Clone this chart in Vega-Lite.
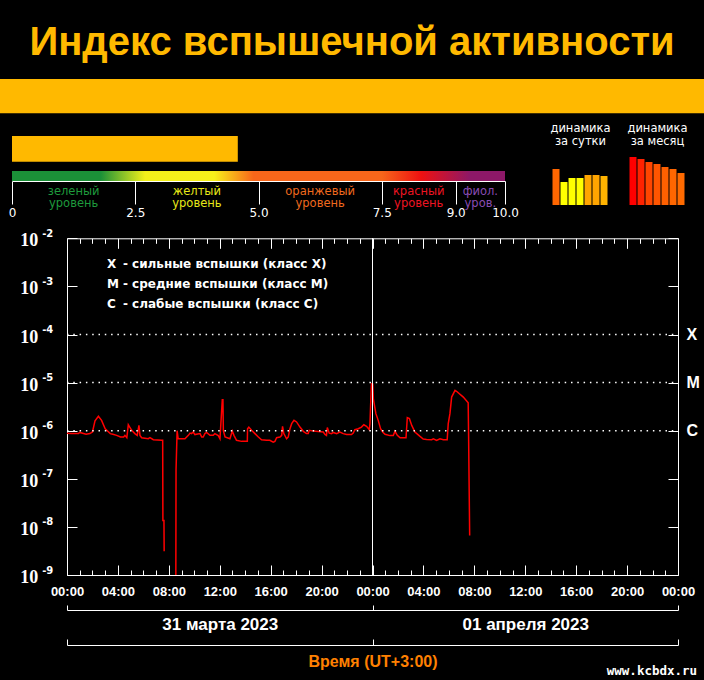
{
  "$schema": "https://vega.github.io/schema/vega-lite/v6.json",
  "width": 704,
  "height": 680,
  "autosize": {"type": "none"},
  "padding": 0,
  "background": "#000000",
  "config": {"view": {"stroke": null}, "axis": {"grid": false}},
  "title": {"text": "Индекс вспышечной активности", "anchor": "middle", "frame": "group", "orient": "top", "baseline": "alphabetic", "offset": -95, "color": "#FFB900", "font": "Liberation Sans Narrow, Arial Narrow, Liberation Sans, sans-serif", "fontWeight": "bold", "fontSize": 40},
  "datasets": {
    "flux": [
      {"t":"2023-03-31T00:00:00Z","v":8.9e-7,"s":1},{"t":"2023-03-31T00:21:00Z","v":8.7e-7,"s":1},{"t":"2023-03-31T00:54:00Z","v":8.7e-7,"s":1},{"t":"2023-03-31T01:00:00Z","v":9.2e-7,"s":1},{"t":"2023-03-31T01:30:00Z","v":8.4e-7,"s":1},{"t":"2023-03-31T01:48:00Z","v":8.7e-7,"s":1},{"t":"2023-03-31T02:00:00Z","v":9.4e-7,"s":1},{"t":"2023-03-31T02:12:00Z","v":1.6e-6,"s":1},{"t":"2023-03-31T02:28:00Z","v":2.0e-6,"s":1},{"t":"2023-03-31T02:43:00Z","v":1.64e-6,"s":1},{"t":"2023-03-31T03:00:00Z","v":1.1e-6,"s":1},{"t":"2023-03-31T03:24:00Z","v":8.7e-7,"s":1},{"t":"2023-03-31T03:36:00Z","v":8.4e-7,"s":1},{"t":"2023-03-31T03:54:00Z","v":8.0e-7,"s":1},{"t":"2023-03-31T04:12:00Z","v":7.4e-7,"s":1},{"t":"2023-03-31T04:27:00Z","v":7.4e-7,"s":1},{"t":"2023-03-31T04:33:00Z","v":8.0e-7,"s":1},{"t":"2023-03-31T04:42:00Z","v":7.15e-7,"s":1},{"t":"2023-03-31T04:49:00Z","v":1.33e-6,"s":1},{"t":"2023-03-31T05:05:00Z","v":1.02e-6,"s":1},{"t":"2023-03-31T05:20:00Z","v":8.7e-7,"s":1},{"t":"2023-03-31T05:31:00Z","v":8.0e-7,"s":1},{"t":"2023-03-31T05:39:00Z","v":1.29e-6,"s":1},{"t":"2023-03-31T05:44:00Z","v":8.0e-7,"s":1},{"t":"2023-03-31T05:52:00Z","v":7.15e-7,"s":1},{"t":"2023-03-31T06:23:00Z","v":6.8e-7,"s":1},{"t":"2023-03-31T06:31:00Z","v":7.15e-7,"s":1},{"t":"2023-03-31T06:47:00Z","v":6.5e-7,"s":1},{"t":"2023-03-31T07:26:00Z","v":6.3e-7,"s":1},{"t":"2023-03-31T07:31:00Z","v":6.3e-7,"s":1},{"t":"2023-03-31T07:32:00Z","v":1.36e-8,"s":1},{"t":"2023-03-31T07:37:00Z","v":1.36e-8,"s":1},{"t":"2023-03-31T07:38:00Z","v":3.1e-9,"s":1},
      {"t":"2023-03-31T08:33:00Z","v":1e-9,"s":2},{"t":"2023-03-31T08:34:00Z","v":1.54e-7,"s":2},{"t":"2023-03-31T08:39:00Z","v":1.0e-6,"s":2},{"t":"2023-03-31T08:44:00Z","v":6.8e-7,"s":2},{"t":"2023-03-31T09:16:00Z","v":6.8e-7,"s":2},{"t":"2023-03-31T09:24:00Z","v":7.4e-7,"s":2},{"t":"2023-03-31T09:32:00Z","v":8.0e-7,"s":2},{"t":"2023-03-31T09:40:00Z","v":8.9e-7,"s":2},{"t":"2023-03-31T09:47:00Z","v":8.7e-7,"s":2},{"t":"2023-03-31T09:55:00Z","v":9.4e-7,"s":2},{"t":"2023-03-31T10:03:00Z","v":8.3e-7,"s":2},{"t":"2023-03-31T10:27:00Z","v":8.7e-7,"s":2},{"t":"2023-03-31T10:35:00Z","v":7.4e-7,"s":2},{"t":"2023-03-31T10:42:00Z","v":7.4e-7,"s":2},{"t":"2023-03-31T10:50:00Z","v":8.7e-7,"s":2},{"t":"2023-03-31T10:58:00Z","v":9.2e-7,"s":2},{"t":"2023-03-31T11:14:00Z","v":8.0e-7,"s":2},{"t":"2023-03-31T11:29:00Z","v":8.0e-7,"s":2},{"t":"2023-03-31T11:37:00Z","v":8.7e-7,"s":2},{"t":"2023-03-31T11:53:00Z","v":7.9e-7,"s":2},{"t":"2023-03-31T12:01:00Z","v":6.8e-7,"s":2},{"t":"2023-03-31T12:09:00Z","v":2.65e-6,"s":2},{"t":"2023-03-31T12:12:00Z","v":4.4e-6,"s":2},{"t":"2023-03-31T12:15:00Z","v":4.4e-6,"s":2},{"t":"2023-03-31T12:17:00Z","v":1.0e-6,"s":2},{"t":"2023-03-31T12:25:00Z","v":7.4e-7,"s":2},{"t":"2023-03-31T12:48:00Z","v":6.8e-7,"s":2},{"t":"2023-03-31T12:59:00Z","v":9.8e-7,"s":2},{"t":"2023-03-31T13:07:00Z","v":8.0e-7,"s":2},{"t":"2023-03-31T13:19:00Z","v":6.3e-7,"s":2},{"t":"2023-03-31T13:43:00Z","v":6.0e-7,"s":2},{"t":"2023-03-31T14:10:00Z","v":6.0e-7,"s":2},{"t":"2023-03-31T14:11:00Z","v":1.1e-6,"s":2},{"t":"2023-03-31T14:17:00Z","v":1.19e-6,"s":2},{"t":"2023-03-31T14:30:00Z","v":1.02e-6,"s":2},{"t":"2023-03-31T14:46:00Z","v":8.7e-7,"s":2},{"t":"2023-03-31T15:02:00Z","v":7.4e-7,"s":2},{"t":"2023-03-31T15:17:00Z","v":6.5e-7,"s":2},{"t":"2023-03-31T15:41:00Z","v":6.3e-7,"s":2},{"t":"2023-03-31T15:56:00Z","v":6.3e-7,"s":2},{"t":"2023-03-31T16:12:00Z","v":5.8e-7,"s":2},{"t":"2023-03-31T16:20:00Z","v":6.0e-7,"s":2},{"t":"2023-03-31T16:28:00Z","v":7.15e-7,"s":2},{"t":"2023-03-31T16:44:00Z","v":7.4e-7,"s":2},{"t":"2023-03-31T16:52:00Z","v":8.0e-7,"s":2},{"t":"2023-03-31T16:56:00Z","v":1.23e-6,"s":2},{"t":"2023-03-31T17:02:00Z","v":8.7e-7,"s":2},{"t":"2023-03-31T17:15:00Z","v":6.8e-7,"s":2},{"t":"2023-03-31T17:23:00Z","v":7.4e-7,"s":2},{"t":"2023-03-31T17:31:00Z","v":1.1e-6,"s":2},{"t":"2023-03-31T17:39:00Z","v":1.4e-6,"s":2},{"t":"2023-03-31T17:50:00Z","v":1.64e-6,"s":2},{"t":"2023-03-31T18:02:00Z","v":1.52e-6,"s":2},{"t":"2023-03-31T18:18:00Z","v":1.19e-6,"s":2},{"t":"2023-03-31T18:34:00Z","v":9.7e-7,"s":2},{"t":"2023-03-31T18:49:00Z","v":8.7e-7,"s":2},{"t":"2023-03-31T18:57:00Z","v":8.7e-7,"s":2},{"t":"2023-03-31T19:02:00Z","v":1.02e-6,"s":2},{"t":"2023-03-31T19:21:00Z","v":9.8e-7,"s":2},{"t":"2023-03-31T20:08:00Z","v":9.4e-7,"s":2},{"t":"2023-03-31T20:16:00Z","v":8.4e-7,"s":2},{"t":"2023-03-31T20:23:00Z","v":8.0e-7,"s":2},{"t":"2023-03-31T20:27:00Z","v":1.16e-6,"s":2},{"t":"2023-03-31T20:36:00Z","v":8.9e-7,"s":2},{"t":"2023-03-31T20:47:00Z","v":8.7e-7,"s":2},{"t":"2023-03-31T20:55:00Z","v":9.2e-7,"s":2},{"t":"2023-03-31T21:11:00Z","v":8.7e-7,"s":2},{"t":"2023-03-31T21:26:00Z","v":9.4e-7,"s":2},{"t":"2023-03-31T21:42:00Z","v":8.7e-7,"s":2},{"t":"2023-03-31T21:58:00Z","v":8.3e-7,"s":2},{"t":"2023-03-31T22:21:00Z","v":8.3e-7,"s":2},{"t":"2023-03-31T22:29:00Z","v":8.9e-7,"s":2},{"t":"2023-03-31T22:37:00Z","v":1.05e-6,"s":2},{"t":"2023-03-31T22:53:00Z","v":1.1e-6,"s":2},{"t":"2023-03-31T23:08:00Z","v":1.19e-6,"s":2},{"t":"2023-03-31T23:19:00Z","v":1.33e-6,"s":2},{"t":"2023-03-31T23:32:00Z","v":1.23e-6,"s":2},{"t":"2023-03-31T23:45:00Z","v":1.05e-6,"s":2},{"t":"2023-03-31T23:48:00Z","v":1.4e-6,"s":2},{"t":"2023-03-31T23:52:00Z","v":4.3e-6,"s":2},{"t":"2023-03-31T23:55:00Z","v":9.5e-6,"s":2},{"t":"2023-04-01T00:01:00Z","v":9.3e-6,"s":2},{"t":"2023-04-01T00:04:00Z","v":4.6e-6,"s":2},{"t":"2023-04-01T00:16:00Z","v":2.26e-6,"s":2},{"t":"2023-04-01T00:27:00Z","v":1.64e-6,"s":2},{"t":"2023-04-01T00:38:00Z","v":1.1e-6,"s":2},{"t":"2023-04-01T00:48:00Z","v":9.4e-7,"s":2},{"t":"2023-04-01T00:59:00Z","v":8.4e-7,"s":2},{"t":"2023-04-01T01:22:00Z","v":7.9e-7,"s":2},{"t":"2023-04-01T01:38:00Z","v":7.9e-7,"s":2},{"t":"2023-04-01T01:46:00Z","v":9.7e-7,"s":2},{"t":"2023-04-01T01:57:00Z","v":8.0e-7,"s":2},{"t":"2023-04-01T02:10:00Z","v":7.15e-7,"s":2},{"t":"2023-04-01T02:38:00Z","v":7.15e-7,"s":2},{"t":"2023-04-01T02:44:00Z","v":1.87e-6,"s":2},{"t":"2023-04-01T02:54:00Z","v":1.78e-6,"s":2},{"t":"2023-04-01T03:05:00Z","v":1.29e-6,"s":2},{"t":"2023-04-01T03:20:00Z","v":9.4e-7,"s":2},{"t":"2023-04-01T03:44:00Z","v":7.6e-7,"s":2},{"t":"2023-04-01T03:59:00Z","v":6.7e-7,"s":2},{"t":"2023-04-01T04:15:00Z","v":6.6e-7,"s":2},{"t":"2023-04-01T04:39:00Z","v":6.5e-7,"s":2},{"t":"2023-04-01T04:47:00Z","v":6.8e-7,"s":2},{"t":"2023-04-01T05:02:00Z","v":6.3e-7,"s":2},{"t":"2023-04-01T05:18:00Z","v":6.8e-7,"s":2},{"t":"2023-04-01T05:34:00Z","v":6.5e-7,"s":2},{"t":"2023-04-01T05:52:00Z","v":6.5e-7,"s":2},{"t":"2023-04-01T05:57:00Z","v":1.4e-6,"s":2},{"t":"2023-04-01T06:05:00Z","v":2.26e-6,"s":2},{"t":"2023-04-01T06:13:00Z","v":5.0e-6,"s":2},{"t":"2023-04-01T06:29:00Z","v":6.9e-6,"s":2},{"t":"2023-04-01T06:36:00Z","v":6.6e-6,"s":2},{"t":"2023-04-01T07:08:00Z","v":5.0e-6,"s":2},{"t":"2023-04-01T07:31:00Z","v":3.8e-6,"s":2},{"t":"2023-04-01T07:33:00Z","v":7.6e-7,"s":2},{"t":"2023-04-01T07:38:00Z","v":6.6e-9,"s":2}
    ],
    "classes": [{"cls":"X","v":1e-4},{"cls":"M","v":1e-5},{"cls":"C","v":1e-6}],
    "legendRows": [
      {"cls":"X","desc":"- сильные вспышки (класс X)","t":"2023-03-31T03:08:00Z","v":0.00292},
      {"cls":"M","desc":"- средние вспышки (класс M)","t":"2023-03-31T03:08:00Z","v":0.00112},
      {"cls":"C","desc":"- слабые вспышки (класс C)","t":"2023-03-31T03:08:00Z","v":0.00043}
    ],
    "dayBreak": [{"t":"2023-04-01T00:00:00Z"}],
    "levels": [
      {"level":"green","label":"зеленый\nуровень","mid":1.25},
      {"level":"yellow","label":"желтый\nуровень","mid":3.75},
      {"level":"orange","label":"оранжевый\nуровень","mid":6.25},
      {"level":"red","label":"красный\nуровень","mid":8.25},
      {"level":"violet","label":"фиол.\nуров.","mid":9.5}
    ],
    "daily": [{"d":1,"i":5.69},{"d":2,"i":3.63},{"d":3,"i":4.27},{"d":4,"i":4.27},{"d":5,"i":4.74},{"d":6,"i":4.74},{"d":7,"i":4.58}],
    "monthly": [{"d":1,"i":7.58},{"d":2,"i":7.27},{"d":3,"i":6.79},{"d":4,"i":6.48},{"d":5,"i":6.0},{"d":6,"i":5.69},{"d":7,"i":5.06}]
  },
  "resolve": {
    "scale": {"x": "independent", "y": "independent", "color": "independent", "fill": "independent"},
    "axis": {"x": "independent", "y": "independent"}
  },
  "layer": [
    {
      "data": {"values": [{"band": "status"}]},
      "mark": {"type": "rect", "color": "#FFB900"},
      "encoding": {
        "y": {"datum": 0, "type": "quantitative", "scale": {"domain": [0, 1], "range": [113.3, 79]}, "axis": null},
        "y2": {"datum": 1}
      }
    },
    {
      "data": {"values": [{"name": "index", "value": 4.58}]},
      "mark": {"type": "rect", "color": "#FFB900"},
      "encoding": {
        "x": {"field": "value", "type": "quantitative", "scale": {"domain": [0, 10], "range": [12, 505], "nice": false}, "axis": null},
        "x2": {"datum": 0},
        "y": {"datum": 0, "type": "quantitative", "scale": {"domain": [0, 1], "range": [161.7, 136]}, "axis": null},
        "y2": {"datum": 1}
      }
    },
    {
      "data": {"values": [{"from": 0, "to": 10}]},
      "mark": {"type": "rect", "color": {"gradient": "linear", "x1": 0, "x2": 1, "y1": 0, "y2": 0, "stops": [
        {"offset": 0, "color": "#1b9138"}, {"offset": 0.18, "color": "#1b9138"},
        {"offset": 0.27, "color": "#f3f01a"}, {"offset": 0.41, "color": "#f7f01a"},
        {"offset": 0.49, "color": "#f7661a"}, {"offset": 0.75, "color": "#f7661a"},
        {"offset": 0.83, "color": "#ee1111"}, {"offset": 0.93, "color": "#8d1868"},
        {"offset": 1, "color": "#8d1868"}]}},
      "encoding": {
        "x": {"field": "from", "type": "quantitative", "scale": {"domain": [0, 10], "range": [12, 505], "nice": false},
          "axis": {"orient": "bottom", "offset": -499, "values": [0, 2.5, 5, 7.5, 9, 10], "title": null,
            "domainColor": "#ffffff", "tickColor": "#ffffff", "tickSize": 23,
            "labelExpr": "datum.value == 0 ? '0' : format(datum.value, '.1f')",
            "labelColor": "#ffffff", "labelFont": "DejaVu Sans", "labelFontSize": 12, "labelPadding": 3,
            "labelFlush": false, "labelOverlap": false}},
        "x2": {"field": "to"},
        "y": {"datum": 0, "type": "quantitative", "scale": {"domain": [0, 1], "range": [181, 171]}, "axis": null},
        "y2": {"datum": 1}
      }
    },
    {
      "data": {"name": "levels"},
      "mark": {"type": "text", "font": "DejaVu Sans", "fontSize": 11.5, "lineBreak": "\n", "lineHeight": 12.5, "baseline": "top", "dy": 4.5},
      "encoding": {
        "x": {"field": "mid", "type": "quantitative", "scale": {"domain": [0, 10], "range": [12, 505], "nice": false}, "axis": null},
        "y": {"datum": 0, "type": "quantitative", "scale": {"domain": [0, 1], "range": [181, 171]}, "axis": null},
        "text": {"field": "label"},
        "color": {"field": "level", "type": "nominal", "legend": null,
          "scale": {"domain": ["green", "yellow", "orange", "red", "violet"], "range": ["#1e9a3c", "#e8e818", "#f06a1e", "#ee1422", "#8a4cb4"]}}
      }
    },
    {
      "data": {"name": "daily"},
      "mark": {"type": "bar"},
      "encoding": {
        "x": {"field": "d", "type": "ordinal", "scale": {"type": "band", "range": [552, 608], "paddingInner": 0.125, "paddingOuter": 0.0625},
          "axis": {"orient": "top", "offset": -146, "domain": false, "ticks": false, "labels": false,
            "title": ["динамика", "за сутки"], "titleColor": "#ffffff", "titleFont": "DejaVu Sans", "titleFontSize": 11.5, "titleFontWeight": "normal", "titleLineHeight": 12.5, "titlePadding": 0}},
        "y": {"field": "i", "type": "quantitative", "scale": {"domain": [0, 10], "range": [205, 141.7], "nice": false}, "axis": null},
        "fill": {"field": "i", "type": "quantitative", "legend": null,
          "scale": {"domain": [3.6, 4.3, 4.58, 4.74, 5.06, 5.7, 6.0, 6.5, 6.8, 7.27, 7.58], "range": ["#FFFF00", "#FFFF00", "#FFB300", "#FFA500", "#FF6A00", "#FF6600", "#FF6000", "#FF5500", "#FF4400", "#FF2200", "#FF0000"]}}
      }
    },
    {
      "data": {"name": "monthly"},
      "mark": {"type": "bar"},
      "encoding": {
        "x": {"field": "d", "type": "ordinal", "scale": {"type": "band", "range": [629, 685], "paddingInner": 0.125, "paddingOuter": 0.0625},
          "axis": {"orient": "top", "offset": -146, "domain": false, "ticks": false, "labels": false,
            "title": ["динамика", "за месяц"], "titleColor": "#ffffff", "titleFont": "DejaVu Sans", "titleFontSize": 11.5, "titleFontWeight": "normal", "titleLineHeight": 12.5, "titlePadding": 0}},
        "y": {"field": "i", "type": "quantitative", "scale": {"domain": [0, 10], "range": [205, 141.7], "nice": false}, "axis": null},
        "fill": {"field": "i", "type": "quantitative", "legend": null,
          "scale": {"domain": [3.6, 4.3, 4.58, 4.74, 5.06, 5.7, 6.0, 6.5, 6.8, 7.27, 7.58], "range": ["#FFFF00", "#FFFF00", "#FFB300", "#FFA500", "#FF6A00", "#FF6600", "#FF6000", "#FF5500", "#FF4400", "#FF2200", "#FF0000"]}}
      }
    },
    {
      "data": {"name": "flux"},
      "mark": {"type": "line", "color": "#FF0000", "strokeWidth": 1.5},
      "encoding": {
        "x": {"field": "t", "type": "temporal",
          "scale": {"type": "utc", "domain": [1680220800000, 1680393600000], "range": [67, 678]},
          "axis": {"orient": "bottom", "offset": -105, "title": null, "domainColor": "#ffffff", "tickColor": "#ffffff",
            "values": [1680220800000,1680224400000,1680228000000,1680231600000,1680235200000,1680238800000,1680242400000,1680246000000,1680249600000,1680253200000,1680256800000,1680260400000,1680264000000,1680267600000,1680271200000,1680274800000,1680278400000,1680282000000,1680285600000,1680289200000,1680292800000,1680296400000,1680300000000,1680303600000,1680307200000,1680310800000,1680314400000,1680318000000,1680321600000,1680325200000,1680328800000,1680332400000,1680336000000,1680339600000,1680343200000,1680346800000,1680350400000,1680354000000,1680357600000,1680361200000,1680364800000,1680368400000,1680372000000,1680375600000,1680379200000,1680382800000,1680386400000,1680390000000,1680393600000],
            "tickSize": -5,
            "labelExpr": "utchours(datum.value) % 4 == 0 ? utcFormat(datum.value, '%H:%M') : ''",
            "labelColor": "#ffffff", "labelFont": "Liberation Sans", "labelFontWeight": "bold", "labelFontSize": 13,
            "labelPadding": 15, "labelOverlap": false, "labelFlush": false}},
        "y": {"field": "v", "type": "quantitative",
          "scale": {"type": "log", "domain": [1e-9, 1e-2], "nice": false, "range": [575, 238.3]},
          "axis": {"orient": "left", "offset": -67, "title": null, "domainColor": "#ffffff", "tickColor": "#ffffff", "tickSize": -10,
            "values": [1e-9, 1e-8, 1e-7, 1e-6, 1e-5, 1e-4, 1e-3, 1e-2],
            "labelExpr": "'10'", "labelColor": "#ffffff", "labelFont": "Liberation Serif", "labelFontWeight": "bold", "labelFontSize": 18,
            "labelPadding": 39.3, "labelOffset": 2.5}},
        "detail": {"field": "s", "type": "nominal"}
      }
    },
    {
      "data": {"name": "dayBreak"},
      "mark": {"type": "rule", "color": "#ffffff", "strokeWidth": 1},
      "encoding": {
        "x": {"field": "t", "type": "temporal",
          "scale": {"type": "utc", "domain": [1680220800000, 1680393600000], "range": [67, 678]},
          "axis": {"orient": "top", "offset": -238.3, "title": null, "domainColor": "#ffffff", "tickColor": "#ffffff",
            "values": [1680220800000,1680224400000,1680228000000,1680231600000,1680235200000,1680238800000,1680242400000,1680246000000,1680249600000,1680253200000,1680256800000,1680260400000,1680264000000,1680267600000,1680271200000,1680274800000,1680278400000,1680282000000,1680285600000,1680289200000,1680292800000,1680296400000,1680300000000,1680303600000,1680307200000,1680310800000,1680314400000,1680318000000,1680321600000,1680325200000,1680328800000,1680332400000,1680336000000,1680339600000,1680343200000,1680346800000,1680350400000,1680354000000,1680357600000,1680361200000,1680364800000,1680368400000,1680372000000,1680375600000,1680379200000,1680382800000,1680386400000,1680390000000,1680393600000],
            "tickSize": -5, "labels": false}},
        "y": {"datum": 1e-9, "type": "quantitative", "scale": {"type": "log", "domain": [1e-9, 1e-2], "nice": false, "range": [575, 238.3]}, "axis": null},
        "y2": {"datum": 1e-2}
      }
    },
    {
      "data": {"name": "dayBreak"},
      "mark": {"type": "rule", "color": "#ffffff", "strokeWidth": 1},
      "encoding": {
        "x": {"field": "t", "type": "temporal",
          "scale": {"type": "utc", "domain": [1680220800000, 1680393600000], "range": [67, 678]},
          "axis": {"orient": "top", "offset": -238.3, "title": null, "domain": false, "tickColor": "#ffffff",
            "values": [1680220800000,1680235200000,1680249600000,1680264000000,1680278400000,1680292800000,1680307200000,1680321600000,1680336000000,1680350400000,1680364800000,1680379200000,1680393600000],
            "tickSize": -10, "labels": false}},
        "y": {"datum": 1e-9, "type": "quantitative", "scale": {"type": "log", "domain": [1e-9, 1e-2], "nice": false, "range": [575, 238.3]}, "axis": null},
        "y2": {"datum": 1e-2}
      }
    },
    {
      "data": {"name": "dayBreak"},
      "mark": {"type": "rule", "color": "#ffffff", "strokeWidth": 1},
      "encoding": {
        "x": {"field": "t", "type": "temporal",
          "scale": {"type": "utc", "domain": [1680220800000, 1680393600000], "range": [67, 678]},
          "axis": {"orient": "bottom", "offset": -105, "title": null, "domain": false, "tickColor": "#ffffff",
            "values": [1680220800000,1680235200000,1680249600000,1680264000000,1680278400000,1680292800000,1680307200000,1680321600000,1680336000000,1680350400000,1680364800000,1680379200000,1680393600000],
            "tickSize": -10, "labels": false}},
        "y": {"datum": 1e-9, "type": "quantitative", "scale": {"type": "log", "domain": [1e-9, 1e-2], "nice": false, "range": [575, 238.3]}, "axis": null},
        "y2": {"datum": 1e-2}
      }
    },
    {
      "data": {"name": "classes"},
      "mark": {"type": "rule", "color": "#ffffff", "strokeWidth": 1.5, "strokeDash": [1.5, 4.8]},
      "encoding": {
        "x": {"datum": 1680220800000, "type": "temporal",
          "scale": {"type": "utc", "domain": [1680220800000, 1680393600000], "range": [67, 678]}, "axis": null},
        "x2": {"datum": 1680393600000},
        "y": {"field": "v", "type": "quantitative",
          "scale": {"type": "log", "domain": [1e-9, 1e-2], "nice": false, "range": [575, 238.3]},
          "axis": {"orient": "left", "offset": -67, "title": null, "domain": false, "ticks": false,
            "values": [1e-9, 1e-8, 1e-7, 1e-6, 1e-5, 1e-4, 1e-3, 1e-2],
            "labelExpr": "'-' + format(-log(datum.value)/LN10, '.0f')", "labelAlign": "left",
            "labelColor": "#ffffff", "labelFont": "DejaVu Sans", "labelFontWeight": "bold", "labelFontSize": 10,
            "labelPadding": 25.3, "labelOffset": -5}}
      }
    },
    {
      "data": {"name": "legendRows"},
      "mark": {"type": "text", "color": "#ffffff", "font": "DejaVu Sans", "fontWeight": "bold", "fontSize": 12, "align": "left"},
      "encoding": {
        "x": {"field": "t", "type": "temporal",
          "scale": {"type": "utc", "domain": [1680220800000, 1680393600000], "range": [67, 678]},
          "axis": {"orient": "bottom", "offset": -70, "title": null, "domainColor": "#ffffff", "tickColor": "#ffffff", "tickSize": -5,
            "values": [1680220800000, 1680307200000, 1680393600000],
            "labelExpr": "utcdate(datum.value) == 31 ? '31 марта 2023' : (utcdate(datum.value) == 1 && utcmonth(datum.value) == 3 ? '01 апреля 2023' : '')",
            "labelOffset": 152.75, "labelColor": "#ffffff", "labelFont": "Liberation Sans", "labelFontWeight": "bold", "labelFontSize": 17,
            "labelPadding": 11.7, "labelOverlap": false, "labelFlush": false}},
        "y": {"field": "v", "type": "quantitative",
          "scale": {"type": "log", "domain": [1e-9, 1e-2], "nice": false, "range": [575, 238.3]},
          "axis": {"orient": "right", "offset": -26, "title": null, "domainColor": "#ffffff", "tickColor": "#ffffff", "tickSize": -10,
            "values": [1e-9, 1e-8, 1e-7, 1e-6, 1e-5, 1e-4, 1e-3, 1e-2],
            "labelExpr": "abs(log(datum.value)/LN10 + 4) < 0.01 ? 'X' : (abs(log(datum.value)/LN10 + 5) < 0.01 ? 'M' : (abs(log(datum.value)/LN10 + 6) < 0.01 ? 'C' : ''))",
            "labelColor": "#ffffff", "labelFont": "Liberation Sans", "labelFontWeight": "bold", "labelFontSize": 16,
            "labelPadding": 18}},
        "text": {"field": "cls"}
      }
    },
    {
      "data": {"name": "legendRows"},
      "mark": {"type": "text", "color": "#ffffff", "font": "DejaVu Sans", "fontWeight": "bold", "fontSize": 12, "align": "left", "dx": 16},
      "encoding": {
        "x": {"field": "t", "type": "temporal",
          "scale": {"type": "utc", "domain": [1680220800000, 1680393600000], "range": [67, 678]},
          "axis": {"orient": "bottom", "offset": -35, "domainColor": "#ffffff", "tickColor": "#ffffff", "tickSize": -6,
            "values": [1680220800000, 1680307200000, 1680393600000],
            "labels": false,
            "title": "Время (UT+3:00)", "titleColor": "#FF8000", "titleFont": "Liberation Sans", "titleFontWeight": "bold", "titleFontSize": 16, "titlePadding": 8}},
        "y": {"field": "v", "type": "quantitative", "scale": {"type": "log", "domain": [1e-9, 1e-2], "nice": false, "range": [575, 238.3]}, "axis": null},
        "text": {"field": "desc"}
      }
    },
    {
      "data": {"values": [{"site": "www.kcbdx.ru", "t": "2023-04-02T01:30:00Z", "v": 1.02e-11}]},
      "mark": {"type": "text", "color": "#ffffff", "font": "DejaVu Sans Mono", "fontWeight": "bold", "fontSize": 12.5, "align": "right", "baseline": "middle"},
      "encoding": {
        "x": {"field": "t", "type": "temporal",
          "scale": {"type": "utc", "domain": [1680220800000, 1680393600000], "range": [67, 678]}, "axis": null},
        "y": {"field": "v", "type": "quantitative", "scale": {"type": "log", "domain": [1e-9, 1e-2], "nice": false, "range": [575, 238.3]}, "axis": null},
        "text": {"field": "site"}
      }
    }
  ]
}
